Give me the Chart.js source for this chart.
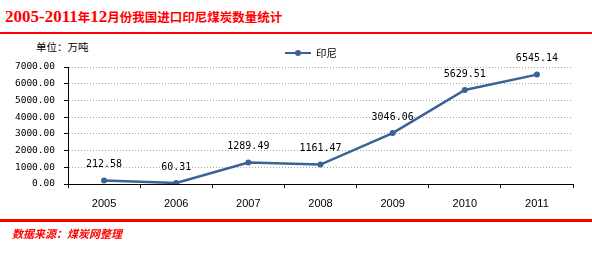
<!DOCTYPE html>
<html lang="zh-CN">
<head>
<meta charset="UTF-8" />
<title>2005-2011年12月份我国进口印尼煤炭数量统计</title>
<script src="https://cdn.jsdelivr.net/npm/chart.js"></script>
<style>
  body {
    margin: 0;
    width: 592px;
    height: 257px;
    background: #ffffff;
    position: relative;
    overflow: hidden;
  }
  .title {
    position: absolute;
    left: 5px;
    top: 5px;
    color: #ff0000;
    font-weight: bold;
    white-space: nowrap;
    line-height: 24px;
  }
  .title .num {
    font-family: "Liberation Serif", serif;
    font-size: 17px;
  }
  .title .cn {
    font-family: "Noto Sans CJK SC", sans-serif;
    font-size: 12.5px;
  }
  .red-line {
    position: absolute;
    left: 0;
    width: 592px;
    background: #ff0000;
  }
  .unit {
    position: absolute;
    left: 36px;
    top: 39px;
    font-family: "Noto Sans CJK SC", sans-serif;
    font-size: 10.5px;
    color: #000;
  }
  .source {
    position: absolute;
    left: 12px;
    top: 225px;
    font-family: "Noto Sans CJK SC", sans-serif;
    font-size: 11px;
    font-weight: bold;
    font-style: italic;
    color: #ff0000;
  }
  #chart {
    position: absolute;
    left: 0;
    top: 40px;
  }
</style>
</head>
<body>
  <div class="title"><span class="num">2005-2011</span><span class="cn">年</span><span class="num">12</span><span class="cn">月份我国进口印尼煤炭数量统计</span></div>
  <div class="red-line" style="top: 32px; height: 2px"></div>
  <div class="unit">单位：万吨</div>
  <canvas id="chart" width="592" height="180"></canvas>
  <div class="red-line" style="top: 219px; height: 3px"></div>
  <div class="source">数据来源：煤炭网整理</div>

<script>
  const years = ["2005", "2006", "2007", "2008", "2009", "2010", "2011"];
  const indonesia = [212.58, 60.31, 1289.49, 1161.47, 3046.06, 5629.51, 6545.14];
  const seriesName = "印尼";
  const yMax = 7000;
  const yStep = 1000;

  const lineColor = "#3a6198";
  const numFont = '"DejaVu Sans Mono", monospace';

  // 数据标签
  const valueLabels = {
    id: "valueLabels",
    afterDatasetsDraw(chart) {
      const ctx = chart.ctx;
      const meta = chart.getDatasetMeta(0);
      ctx.save();
      ctx.font = "10px " + numFont;
      ctx.fillStyle = "#000";
      ctx.textAlign = "center";
      ctx.textBaseline = "middle";
      meta.data.forEach((pt, i) => {
        ctx.fillText(chart.data.datasets[0].data[i].toFixed(2), pt.x, pt.y - 16);
      });
      ctx.restore();
    },
  };

  // 图例：线 + 圆点
  const lineLegend = {
    id: "lineLegend",
    afterDraw(chart) {
      const ctx = chart.ctx;
      const ds = chart.data.datasets[0];
      const x = 285, y = 13;
      ctx.save();
      ctx.strokeStyle = ds.borderColor;
      ctx.lineWidth = 2;
      ctx.beginPath();
      ctx.moveTo(x, y);
      ctx.lineTo(x + 26, y);
      ctx.stroke();
      ctx.fillStyle = ds.borderColor;
      ctx.beginPath();
      ctx.arc(x + 13, y, 3, 0, Math.PI * 2);
      ctx.fill();
      ctx.fillStyle = "#000";
      ctx.font = '10.5px "Noto Sans CJK SC", sans-serif';
      ctx.textBaseline = "middle";
      ctx.fillText(ds.label, x + 31, y);
      ctx.restore();
    },
  };

  new Chart(document.getElementById("chart"), {
    type: "line",
    data: {
      labels: years,
      datasets: [
        {
          label: seriesName,
          data: indonesia,
          borderColor: lineColor,
          backgroundColor: lineColor,
          borderWidth: 2.5,
          pointRadius: 3,
          pointBackgroundColor: lineColor,
          pointBorderWidth: 0,
          tension: 0,
          fill: false,
        },
      ],
    },
    options: {
      responsive: false,
      animation: false,
      layout: {
        padding: { top: 27, right: 19, left: 0, bottom: 0 },
      },
      plugins: {
        legend: { display: false },
        tooltip: { enabled: false },
      },
      scales: {
        x: {
          offset: true,
          afterFit: (scale) => { scale.height = 36; },
          grid: {
            offset: true,
            drawOnChartArea: false,
            drawTicks: true,
            tickLength: 4,
            tickColor: "#000",
          },
          border: { display: true, color: "#000", width: 1 },
          ticks: {
            color: "#000",
            padding: 9,
            font: { family: '"Liberation Sans", Arial, sans-serif', size: 11 },
          },
        },
        y: {
          min: 0,
          max: yMax,
          afterFit: (scale) => { scale.width = 68; },
          grid: {
            color: "#a8a8a8",
            lineWidth: 1,
            drawTicks: true,
            tickLength: 4,
            tickColor: "#000",
          },
          border: { display: true, color: "#000", width: 1, dash: [1, 2] },
          ticks: {
            stepSize: yStep,
            color: "#000",
            padding: 9,
            font: { family: numFont, size: 9.5 },
            callback: (v) => v.toFixed(2),
          },
        },
      },
    },
    plugins: [valueLabels, lineLegend],
  });
</script>
</body>
</html>
